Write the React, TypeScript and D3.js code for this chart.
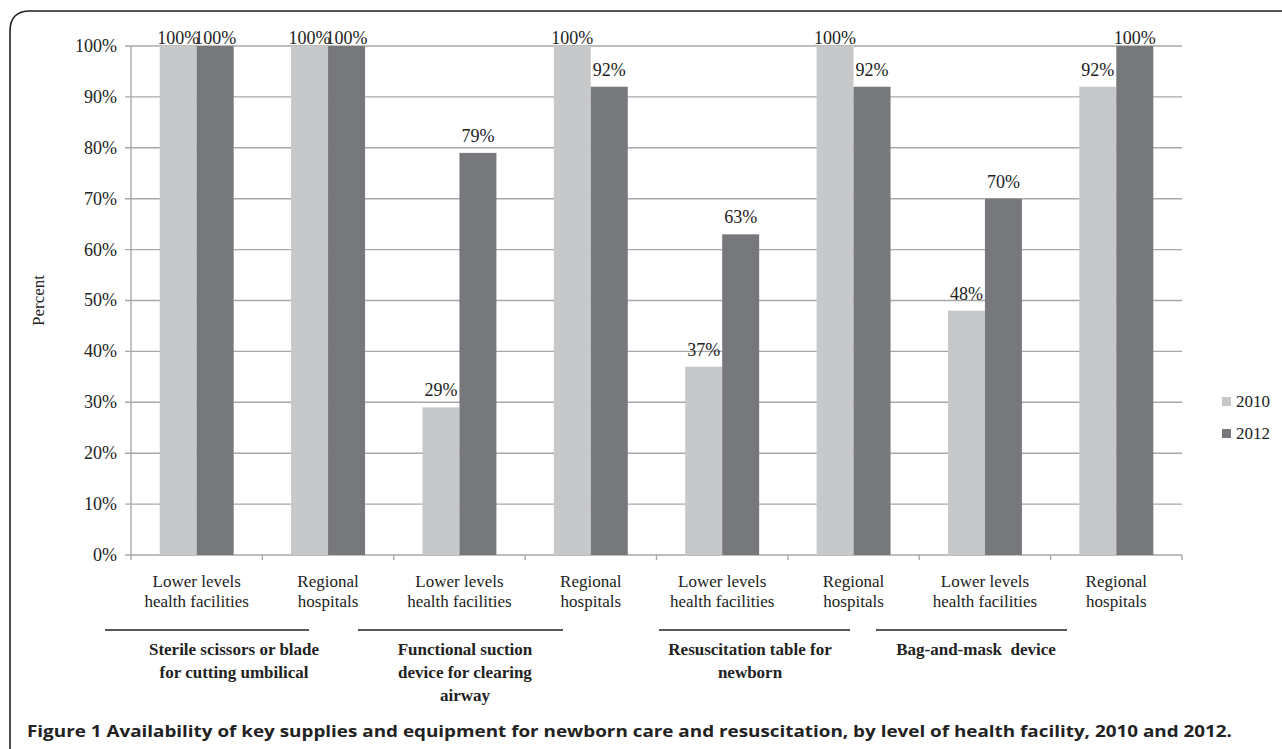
import { scaleBand, scaleLinear } from "d3";

const categories = [
  "Lower levels|health facilities",
  "Regional|hospitals",
  "Lower levels|health facilities",
  "Regional|hospitals",
  "Lower levels|health facilities",
  "Regional|hospitals",
  "Lower levels|health facilities",
  "Regional|hospitals",
];
const values2010 = [100, 100, 29, 100, 37, 100, 48, 92];
const values2012 = [100, 100, 79, 92, 63, 92, 70, 100];
const seriesNames = ["2010", "2012"];
const groupLabels = [
  ["Sterile scissors or blade", "for cutting umbilical"],
  ["Functional suction", "device for clearing", "airway"],
  ["Resuscitation table for", "newborn"],
  ["Bag-and-mask  device"],
];
const yTicks = [0, 10, 20, 30, 40, 50, 60, 70, 80, 90, 100];
const caption =
  "Figure 1 Availability of key supplies and equipment for newborn care and resuscitation, by level of health facility, 2010 and 2012.";

// hand-placed group underline spans (as in the original figure)
const groupSpans = [
  [105, 309],
  [358, 563],
  [659, 850],
  [876, 1067],
];
const groupCenters = [234, 465, 750, 976];

const W = 1282;
const H = 749;
const m = { left: 131, right: 1182, top: 46, bottom: 555 };
const colors = ["#c7c8ca", "#77787b"];
const serif = "'Liberation Serif', 'Times New Roman', serif";

export default function App() {
  const idx = categories.map((_, i) => String(i));
  const x = scaleBand<string>()
    .domain(idx)
    .range([m.left, m.right])
    .paddingInner(0.437)
    .paddingOuter(0.2185);
  const xs = scaleBand<string>().domain(seriesNames).range([0, x.bandwidth()]);
  const y = scaleLinear().domain([0, 100]).range([m.bottom, m.top]);
  const series = [values2010, values2012];
  const step = x.step();

  return (
    <svg
      width={W}
      height={H}
      style={{ position: "absolute", left: 0, top: 0, background: "#fff" }}
      fontFamily={serif}
    >
      {/* frame */}
      <path
        d={`M10,${H} L10,31 Q10,11 30,11 L${W},11`}
        fill="none"
        stroke="#222"
        strokeWidth={1.6}
      />

      {/* grid */}
      {yTicks.map((t) => (
        <g key={t}>
          <line x1={m.left - 6} x2={m.right} y1={y(t)} y2={y(t)} stroke="#a8a8a8" strokeWidth={1.4} />
          <text x={m.left - 14} y={y(t)} dy="0.33em" textAnchor="end" fontSize={18} fill="#222">
            {t}%
          </text>
        </g>
      ))}
      <line x1={m.left} x2={m.left} y1={m.top} y2={m.bottom + 5} stroke="#a8a8a8" strokeWidth={1.4} />
      {idx.map((c, i) => (
        <line
          key={c}
          x1={m.left + (i + 1) * step}
          x2={m.left + (i + 1) * step}
          y1={m.bottom}
          y2={m.bottom + 5}
          stroke="#a8a8a8"
          strokeWidth={1.4}
        />
      ))}

      {/* bars */}
      {series.map((vals, s) =>
        vals.map((v, i) => {
          const bx = (x(String(i)) ?? 0) + (xs(seriesNames[s]) ?? 0);
          const bw = xs.bandwidth();
          // labels stay inside the plot's top margin
          const ly = Math.max(y(v) - 11, y(100) - 2);
          return (
            <g key={`${s}-${i}`}>
              <rect x={bx} y={y(v)} width={bw} height={y(0) - y(v)} fill={colors[s]} />
              <text x={bx + bw / 2} y={ly} textAnchor="middle" fontSize={18} fill="#222">
                {v}%
              </text>
            </g>
          );
        })
      )}

      {/* category labels */}
      {categories.map((c, i) => {
        const cx = (x(String(i)) ?? 0) + x.bandwidth() / 2;
        return (
          <text key={i} x={cx} y={587} textAnchor="middle" fontSize={17} fill="#222">
            {c.split("|").map((l, j) => (
              <tspan key={j} x={cx} dy={j === 0 ? 0 : 20}>
                {l}
              </tspan>
            ))}
          </text>
        );
      })}

      {/* group lines and labels */}
      {groupLabels.map((lines, g) => (
        <g key={g}>
          <line x1={groupSpans[g][0]} x2={groupSpans[g][1]} y1={630} y2={630} stroke="#222" strokeWidth={1.6} />
          <text x={groupCenters[g]} y={655} textAnchor="middle" fontSize={17} fontWeight="bold" fill="#222">
            {lines.map((l, j) => (
              <tspan key={j} x={groupCenters[g]} dy={j === 0 ? 0 : 23} style={{ whiteSpace: "pre" }}>
                {l}
              </tspan>
            ))}
          </text>
        </g>
      ))}

      {/* y label */}
      <text
        transform={`translate(44,${(m.top + m.bottom) / 2}) rotate(-90)`}
        textAnchor="middle"
        fontSize={17}
        fill="#222"
      >
        Percent
      </text>

      {/* legend */}
      {seriesNames.map((n, s) => (
        <g key={n} transform={`translate(1222,${397 + s * 32})`}>
          <rect width={9} height={9} fill={colors[s]} />
          <text x={14} y={10} fontSize={17} fill="#222">
            {n}
          </text>
        </g>
      ))}

      {/* caption */}
      <text
        x={27}
        y={737}
        fontFamily="'Open Sans', 'Noto Sans', sans-serif"
        fontWeight="bold"
        fontSize={16.5}
        fill="#222"
        textLength={1205}
        lengthAdjust="spacingAndGlyphs"
      >
        {caption}
      </text>
    </svg>
  );
}
